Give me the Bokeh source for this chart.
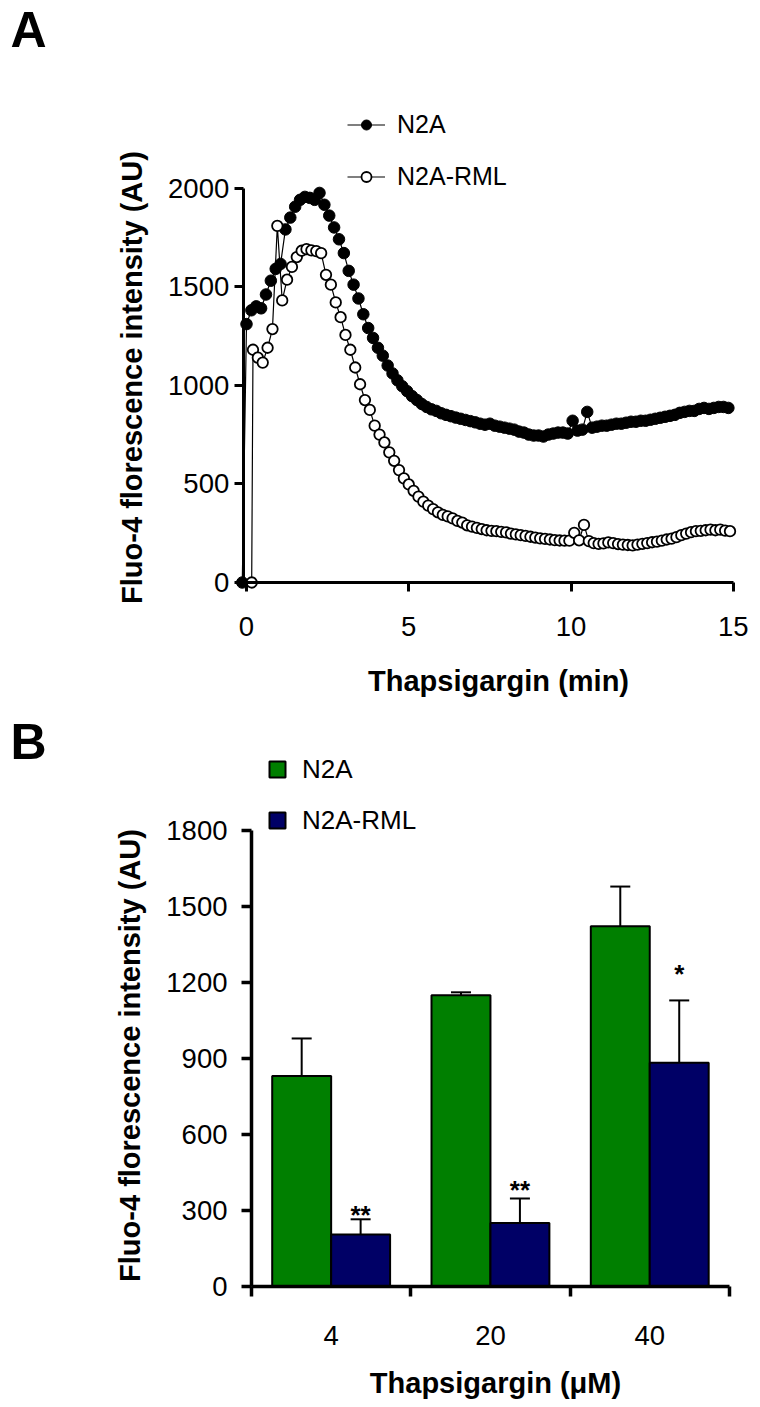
from bokeh.plotting import figure
from bokeh.layouts import column
from bokeh.models import (ColumnDataSource, Legend, LegendItem, Label, FixedTicker,
                          Whisker, TeeHead, Range1d)
from bokeh.transform import dodge
from bokeh.embed import file_html
from bokeh.resources import INLINE
from bokeh.core.properties import value
import math

FONT = "Liberation Sans"

# ---------------- Panel A data (time in min, Fluo-4 intensity in AU) ----------------
t_n2a = [-0.13,
         0.00, 0.15, 0.30, 0.45, 0.60, 0.75, 0.90, 1.05, 1.20, 1.35,
         1.50, 1.65, 1.80, 1.95, 2.10, 2.25, 2.40, 2.55, 2.70, 2.85,
         3.00, 3.15, 3.30, 3.45, 3.60, 3.75, 3.90, 4.05, 4.20, 4.35,
         4.50, 4.65, 4.80, 4.95, 5.10, 5.25, 5.40, 5.55, 5.70, 5.85,
         6.00, 6.15, 6.30, 6.45, 6.60, 6.75, 6.90, 7.05, 7.20, 7.35,
         7.50, 7.65, 7.80, 7.95, 8.10, 8.25, 8.40, 8.55, 8.70, 8.85,
         9.00, 9.15, 9.30, 9.45, 9.60, 9.75, 9.90, 10.05, 10.20, 10.35,
         10.50, 10.65, 10.80, 10.95, 11.10, 11.25, 11.40, 11.55, 11.70, 11.85,
         12.00, 12.15, 12.30, 12.45, 12.60, 12.75, 12.90, 13.05, 13.20, 13.35,
         13.50, 13.65, 13.80, 13.95, 14.10, 14.25, 14.40, 14.55, 14.70, 14.85]
v_n2a = [0,
         1310, 1380, 1400, 1390, 1460, 1530, 1590, 1615, 1790, 1850,
         1905, 1940, 1955, 1950, 1940, 1975, 1915, 1860, 1800, 1740,
         1670, 1580, 1510, 1440, 1360, 1290, 1240, 1190, 1150, 1100,
         1060, 1025, 995, 970, 945, 925, 905, 890, 878, 870,
         858, 850, 843, 836, 830, 824, 818, 812, 805, 800,
         805, 795, 790, 785, 780, 775, 765, 760, 750, 745,
         745, 740, 750, 755, 760, 760, 755, 820, 770, 775,
         865, 785, 790, 795, 795, 800, 805, 805, 810, 815,
         815, 820, 820, 825, 830, 835, 840, 845, 850, 860,
         865, 870, 870, 880, 885, 880, 885, 890, 890, 885]

t_rml = [0.16,
         0.20, 0.35, 0.50, 0.65, 0.80, 0.95, 1.10, 1.25, 1.40, 1.55,
         1.70, 1.85, 2.00, 2.15, 2.30, 2.45, 2.60, 2.75, 2.90, 3.05,
         3.20, 3.35, 3.50, 3.65, 3.80, 3.95, 4.10, 4.25, 4.40, 4.55,
         4.70, 4.85, 5.00, 5.15, 5.30, 5.45, 5.60, 5.75, 5.90, 6.05,
         6.20, 6.35, 6.50, 6.65, 6.80, 6.95, 7.10, 7.25, 7.40, 7.55,
         7.70, 7.85, 8.00, 8.15, 8.30, 8.45, 8.60, 8.75, 8.90, 9.05,
         9.20, 9.35, 9.50, 9.65, 9.80, 9.95, 10.10, 10.25, 10.40, 10.55,
         10.70, 10.85, 11.00, 11.15, 11.30, 11.45, 11.60, 11.75, 11.90, 12.05,
         12.20, 12.35, 12.50, 12.65, 12.80, 12.95, 13.10, 13.25, 13.40, 13.55,
         13.70, 13.85, 14.00, 14.15, 14.30, 14.45, 14.60, 14.75, 14.90]
v_rml = [0,
         1180, 1140, 1115, 1190, 1285, 1808, 1430, 1535, 1600, 1650,
         1682, 1690, 1684, 1680, 1670, 1560, 1510, 1420, 1345, 1255,
         1180, 1090, 1005, 925, 875, 795, 750, 710, 660, 617,
         570, 528, 497, 465, 435, 410, 390, 372, 356, 343,
         335, 325, 312, 304, 290, 283, 277, 271, 265, 262,
         260, 257, 254, 248, 244, 240, 236, 232, 228, 224,
         221, 218, 215, 213, 212, 212, 252, 214, 292, 210,
         200, 196, 198, 203, 200, 195, 192, 190, 188, 192,
         196, 200, 204, 207, 212, 218, 222, 230, 240, 248,
         255, 260, 262, 265, 268, 265, 268, 263, 260]

a_xticks = [0, 5, 10, 15]
a_yticks = [0, 500, 1000, 1500, 2000]

# ---------------- Panel B data ----------------
conc = ["4", "20", "40"]
group_pos = [0.5, 1.5, 2.5]
n2a_mean = [830, 1148, 1420]
n2a_err = [148, 12, 157]
rml_mean = [205, 250, 882]
rml_err = [60, 97, 246]
sig = ["**", "**", "*"]
sig_y = [280, 380, 1232]
b_yticks = [0, 300, 600, 900, 1200, 1500, 1800]

XTITLE_A = "Thapsigargin (min)"
XTITLE_B = "Thapsigargin (\u03bcM)"
YTITLE = "Fluo-4 florescence intensity (AU)"


def style_axis(ax, lw, tick_out, label_size="27.5px"):
    ax.axis_line_width = lw
    ax.axis_line_color = "black"
    ax.major_tick_line_width = lw
    ax.major_tick_line_color = "black"
    ax.major_tick_out = tick_out
    ax.major_tick_in = 0
    ax.minor_tick_line_color = None
    ax.major_label_text_font = FONT
    ax.major_label_text_font_size = label_size
    ax.major_label_text_color = "black"


def text_label(x, y, text, size, bold=True, angle=0.0, align="center", baseline="middle"):
    return Label(x=x, y=y, x_units="screen", y_units="screen", text=text, angle=angle,
                 text_font=FONT, text_font_style="bold" if bold else "normal",
                 text_font_size=size, text_align=align, text_baseline=baseline,
                 text_color="black")


# ================= Panel A =================
# canvas 756 x 708 at page (0, 0); the frame covers the whole canvas
WA, HA = 756, 708
A_X0, A_PXMIN = 246.0, 32.45          # canvas x of t=0, px per minute
A_Y0, A_PXU = 582.0, 0.19725          # canvas y of 0 AU, px per AU
pA = figure(width=WA, height=HA,
            x_range=Range1d(-A_X0 / A_PXMIN, (WA - A_X0) / A_PXMIN),
            y_range=Range1d(-(HA - A_Y0) / A_PXU, A_Y0 / A_PXU),
            output_backend="svg", toolbar_location=None,
            min_border_left=0, min_border_right=0, min_border_top=0, min_border_bottom=0)
pA.grid.visible = False
pA.outline_line_color = None

xa = pA.xaxis[0]
ya = pA.yaxis[0]
style_axis(xa, 3, 9)
style_axis(ya, 3, 9)
xa.ticker = FixedTicker(ticks=a_xticks)
ya.ticker = FixedTicker(ticks=a_yticks)
xa.bounds = (-0.1, 15)
ya.bounds = (0, 2000)
xa.fixed_location = 0
ya.fixed_location = -0.1
xa.major_label_standoff = 25
ya.major_label_standoff = 5

src_n = ColumnDataSource(dict(t=t_n2a, v=v_n2a))
src_r = ColumnDataSource(dict(t=t_rml, v=v_rml))
ln = pA.line("t", "v", source=src_n, line_color="black", line_width=1.2)
sn = pA.scatter("t", "v", source=src_n, marker="circle", size=11.5,
                fill_color="black", line_color="black", line_width=1)
lr = pA.line("t", "v", source=src_r, line_color="black", line_width=1.2)
sr = pA.scatter("t", "v", source=src_r, marker="circle", size=10.5,
                fill_color="white", line_color="black", line_width=1.8)

legA = Legend(items=[LegendItem(label=value("N2A"), renderers=[ln, sn]),
                     LegendItem(label=value("N2A-RML"), renderers=[lr, sr])],
              location=(347, HA - 191), orientation="vertical",
              glyph_width=38, glyph_height=25, label_standoff=12, spacing=23,
              padding=0, margin=0, border_line_color=None, background_fill_alpha=0,
              label_text_font=FONT, label_text_font_size="25px", label_height=25,
              label_text_color="black")
pA.add_layout(legA)

pA.add_layout(text_label(10, HA - 29, "A", "50px", align="left"))
pA.add_layout(text_label(498, HA - 680, XTITLE_A, "29px"))
pA.add_layout(text_label(131.5, HA - 377, YTITLE, "29px", angle=math.pi / 2))

# ================= Panel B =================
# canvas 756 x 695 at page (0, 708)
WB, HB = 756, 695
B_X0, B_PXG = 251.0, 159.3            # canvas x of left axis, px per group
B_Y0, B_PXU = 578.0, 0.253611         # canvas y of 0 AU, px per AU
pB = figure(width=WB, height=HB,
            x_range=Range1d(-B_X0 / B_PXG, (WB - B_X0) / B_PXG),
            y_range=Range1d(-(HB - B_Y0) / B_PXU, B_Y0 / B_PXU),
            output_backend="svg", toolbar_location=None,
            min_border_left=0, min_border_right=0, min_border_top=0, min_border_bottom=0)
pB.grid.visible = False
pB.outline_line_color = None

srcB = ColumnDataSource(dict(xc=group_pos, n2a=n2a_mean,
                             n2a_hi=[m + e for m, e in zip(n2a_mean, n2a_err)],
                             rml=rml_mean,
                             rml_hi=[m + e for m, e in zip(rml_mean, rml_err)],
                             sig=sig, sig_y=sig_y))

xb = pB.xaxis[0]
yb = pB.yaxis[0]
style_axis(xb, 3.5, 0)
style_axis(yb, 3.5, 10)
xb.ticker = FixedTicker(ticks=group_pos, minor_ticks=[0, 1, 2, 3])
xb.major_label_overrides = {p: c for p, c in zip(group_pos, conc)}
xb.minor_tick_line_color = "black"
xb.minor_tick_line_width = 3.5
xb.minor_tick_out = 10
xb.minor_tick_in = 0
xb.major_tick_line_color = None
xb.major_label_standoff = 29
xb.bounds = (0, 3)
xb.fixed_location = 0
yb.ticker = FixedTicker(ticks=b_yticks)
yb.bounds = (0, 1800)
yb.fixed_location = 0
yb.major_label_standoff = 14

GREEN = "#007F00"
NAVY = "#000066"
wh1 = Whisker(source=srcB, base=dodge("xc", -0.185, range=pB.x_range), lower="n2a", upper="n2a_hi",
              dimension="height", line_color="black", line_width=2, lower_head=None,
              upper_head=TeeHead(size=20, line_width=2, line_color="black"))
wh2 = Whisker(source=srcB, base=dodge("xc", 0.185, range=pB.x_range), lower="rml", upper="rml_hi",
              dimension="height", line_color="black", line_width=2, lower_head=None,
              upper_head=TeeHead(size=20, line_width=2, line_color="black"))
pB.add_layout(wh1)
pB.add_layout(wh2)
bn = pB.vbar(x=dodge("xc", -0.185, range=pB.x_range), top="n2a", width=0.37, source=srcB,
             fill_color=GREEN, line_color="black", line_width=2)
br = pB.vbar(x=dodge("xc", 0.185, range=pB.x_range), top="rml", width=0.37, source=srcB,
             fill_color=NAVY, line_color="black", line_width=2)
pB.text(x=dodge("xc", 0.185, range=pB.x_range), y="sig_y", text="sig", source=srcB,
        text_font=value(FONT), text_font_size="26px", text_font_style="bold",
        text_align="center", text_baseline="alphabetic", text_color="black")

legB = Legend(items=[LegendItem(label=value("N2A"), renderers=[bn]),
                     LegendItem(label=value("N2A-RML"), renderers=[br])],
              location=(267, HB - (835.5 - 708)), orientation="vertical",
              glyph_width=20, glyph_height=20, label_standoff=15, spacing=20,
              padding=0, margin=0, border_line_color=None, background_fill_alpha=0,
              label_text_font=FONT, label_text_font_size="26px", label_height=20,
              label_text_color="black")
pB.add_layout(legB)

pB.add_layout(text_label(10, HB - (741 - 708), "B", "50px", align="left"))
pB.add_layout(text_label(495, HB - (1382 - 708), XTITLE_B, "29px"))
pB.add_layout(text_label(129, HB - (1055 - 708), YTITLE, "29px", angle=math.pi / 2))

layout = column(pA, pB, spacing=0)
open("out.html", "w").write(file_html(layout, INLINE))
